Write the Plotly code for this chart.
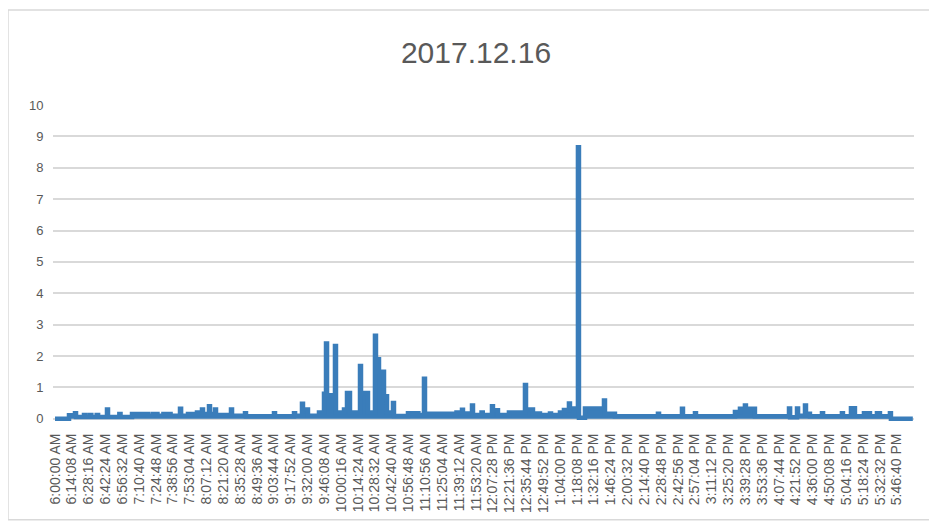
import pandas as pd
import plotly.graph_objects as go

DAY = "2017-12-16"
TITLE = "2017.12.16"

# upper envelope of the reading, one entry per level change (step chart)
times = [
    "06:00:00", "06:11:45", "06:16:47", "06:17:38", "06:24:20", "06:25:10",
    "06:29:00", "06:30:30", "06:35:00", "06:36:10", "06:43:38", "06:44:29",
    "06:54:00", "06:55:00", "07:04:38", "07:09:00", "07:10:00", "07:18:00",
    "07:22:00", "07:26:00", "07:31:00", "07:37:00", "07:44:55", "07:45:50",
    "07:51:38", "07:59:10", "08:03:22", "08:04:13", "08:09:15", "08:10:05",
    "08:14:17", "08:15:08", "08:27:43", "08:28:35", "08:39:28", "08:40:18",
    "09:03:48", "09:04:40", "09:20:36", "09:21:30", "09:27:18", "09:28:09",
    "09:32:20", "09:41:34", "09:45:47", "09:47:28", "09:48:19", "09:55:00",
    "09:55:50", "10:02:34", "10:05:05", "10:07:36", "10:16:00", "10:16:50",
    "10:22:42", "10:28:34", "10:29:24", "10:31:56", "10:36:08", "10:38:40",
    "10:43:41", "10:44:31", "10:56:16", "11:05:00", "11:09:42", "11:10:33",
    "11:37:00", "11:41:36", "11:42:26", "11:50:00", "11:50:50", "11:58:00",
    "11:59:00", "12:06:46", "12:07:36", "12:11:48", "12:21:00", "12:34:28",
    "12:35:20", "12:41:11", "12:47:03", "12:55:27", "12:56:20", "13:03:50",
    "13:07:11", "13:11:23", "13:12:13", "13:18:56", "13:19:47", "13:24:50",
    "13:40:47", "13:41:38", "13:45:49", "13:49:00", "13:50:00", "14:26:05",
    "14:27:00", "14:46:14", "14:47:05", "14:57:09", "14:58:00", "15:30:43",
    "15:34:55", "15:39:06", "15:39:56", "15:47:30", "16:16:05", "16:17:00",
    "16:22:48", "16:23:40", "16:29:30", "16:30:20", "16:33:40", "16:43:46",
    "16:44:40", "17:00:30", "17:01:22", "17:08:05", "17:11:26", "17:19:00",
    "17:19:50", "17:23:12", "17:24:02", "17:29:54", "17:32:25", "17:40:48",
    "17:41:38", "18:00:00",
]
values = [
    0.0, 0.11, 0.18, 0.06, 0.12, 0.06,
    0.12, 0.06, 0.12, 0.06, 0.30, 0.06,
    0.15, 0.06, 0.15, 0.10, 0.15, 0.10,
    0.15, 0.10, 0.15, 0.10, 0.32, 0.10,
    0.15, 0.20, 0.30, 0.15, 0.40, 0.15,
    0.30, 0.12, 0.30, 0.10, 0.18, 0.08,
    0.18, 0.08, 0.18, 0.10, 0.48, 0.30,
    0.10, 0.20, 0.80, 2.40, 0.75, 2.32,
    0.20, 0.30, 0.82, 0.20, 1.68, 0.82,
    0.20, 2.65, 1.90, 1.50, 0.72, 0.20,
    0.50, 0.09, 0.18, 0.12, 1.28, 0.16,
    0.20, 0.29, 0.17, 0.42, 0.12, 0.20,
    0.12, 0.40, 0.27, 0.12, 0.20, 1.08,
    0.30, 0.17, 0.12, 0.17, 0.12, 0.20,
    0.28, 0.49, 0.33, 8.65, 0.03, 0.33,
    0.58, 0.16, 0.10, 0.16, 0.08, 0.16,
    0.08, 0.32, 0.08, 0.18, 0.08, 0.22,
    0.32, 0.42, 0.32, 0.08, 0.33, 0.05,
    0.33, 0.10, 0.42, 0.16, 0.08, 0.18,
    0.08, 0.18, 0.08, 0.34, 0.08, 0.18,
    0.08, 0.18, 0.08, 0.18, 0.08, 0.18,
    0.0, 0.0,
]

tick_labels = [
    "6:00:00 AM", "6:14:08 AM", "6:28:16 AM", "6:42:24 AM", "6:56:32 AM",
    "7:10:40 AM", "7:24:48 AM", "7:38:56 AM", "7:53:04 AM", "8:07:12 AM",
    "8:21:20 AM", "8:35:28 AM", "8:49:36 AM", "9:03:44 AM", "9:17:52 AM",
    "9:32:00 AM", "9:46:08 AM", "10:00:16 AM", "10:14:24 AM", "10:28:32 AM",
    "10:42:40 AM", "10:56:48 AM", "11:10:56 AM", "11:25:04 AM", "11:39:12 AM",
    "11:53:20 AM", "12:07:28 PM", "12:21:36 PM", "12:35:44 PM", "12:49:52 PM",
    "1:04:00 PM", "1:18:08 PM", "1:32:16 PM", "1:46:24 PM", "2:00:32 PM",
    "2:14:40 PM", "2:28:48 PM", "2:42:56 PM", "2:57:04 PM", "3:11:12 PM",
    "3:25:20 PM", "3:39:28 PM", "3:53:36 PM", "4:07:44 PM", "4:21:52 PM",
    "4:36:00 PM", "4:50:08 PM", "5:04:16 PM", "5:18:24 PM", "5:32:32 PM",
    "5:46:40 PM",
]

x = pd.to_datetime([f"{DAY} {t}" for t in times])
tick_pos = pd.to_datetime([f"{DAY} {t}" for t in tick_labels], format="%Y-%m-%d %I:%M:%S %p")

BLUE = "#3A7DBA"
GREY = "#595959"
FONT = "Liberation Sans"

fig = go.Figure()
fig.add_trace(go.Scatter(
    x=x, y=values, mode="lines", line_shape="hv",
    line=dict(color=BLUE, width=4.5),
    fill="tozeroy", fillcolor=BLUE,
    hoverinfo="skip", showlegend=False,
))

# chart border
fig.add_shape(type="rect", xref="paper", yref="paper",
              x0=-0.0523, x1=1.0186, y0=-0.3125, y1=1.3004,
              line=dict(color="#D9D9D9", width=1.5), layer="below")

# the page body keeps its default 8px margin, so the figure is 8px smaller
W, H = 929, 520
fig.update_layout(
    width=W, height=H,
    margin=dict(l=45, r=23, t=97, b=107),
    paper_bgcolor="white", plot_bgcolor="white",
    font=dict(family=FONT, color=GREY),
    title=dict(text=TITLE, x=468 / W, xref="container", xanchor="center",
               y=1 - 44 / H, yref="container", yanchor="middle",
               font=dict(size=30, color=GREY, family=FONT)),
)
fig.update_xaxes(
    type="date",
    range=[f"{DAY} 05:58:19", f"{DAY} 18:01:00"],
    tickvals=tick_pos, ticktext=tick_labels, tickangle=-90,
    tickfont=dict(size=14, color=GREY, family=FONT),
    ticks="outside", ticklen=6, tickcolor="rgba(0,0,0,0)",
    showgrid=False, zeroline=False, showline=False,
)
fig.update_yaxes(
    range=[-0.07, 10], tickvals=list(range(0, 11)), ticktext=[str(v) for v in range(0, 11)],
    tickfont=dict(size=13, color=GREY, family=FONT),
    ticks="outside", ticklen=6, tickcolor="rgba(0,0,0,0)",
    showgrid=True, gridcolor="#D9D9D9", gridwidth=1.5,
    zeroline=False, showline=False,
)

fig.write_html("out.html")
